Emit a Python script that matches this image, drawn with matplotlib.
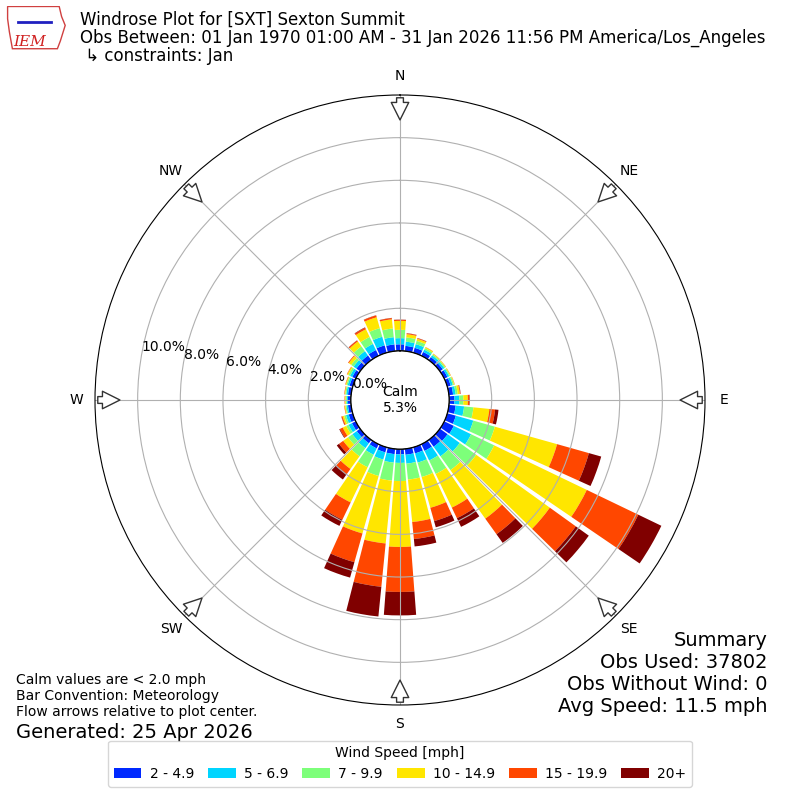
import numpy as np
import matplotlib
matplotlib.use("Agg")
import matplotlib.pyplot as plt
from matplotlib.patches import Patch, Polygon

# Wind direction bins (degrees, meteorological) and frequency (%) per speed bin
directions = list(range(0, 360, 10))
speed_labels = ["2 - 4.9", "5 - 6.9", "7 - 9.9", "10 - 14.9", "15 - 19.9", "20+"]

s_2_5 = [.31, .25, .24, .20, .18, .17, .17, .17, .20, .25, .32, .42, .50, .45, .40, .35, .30, .28,
         .25, .25, .25, .22, .20, .20, .20, .20, .15, .14, .15, .16, .18, .22, .27, .30, .36, .32]
s_5_7 = [.29, .20, .18, .12, .10, .09, .09, .10, .12, .23, .40, .85, .90, .70, .55, .50, .45, .42,
         .40, .40, .35, .33, .28, .25, .18, .13, .07, .06, .08, .09, .12, .16, .25, .32, .42, .34]
s_7_10 = [.39, .20, .16, .08, .06, .06, .05, .06, .10, .19, .44, 1.05, 1.20, .95, .80, .70, .70, .75,
          .85, .85, .80, .65, .47, .25, .12, .09, .05, .05, .05, .06, .09, .14, .28, .36, .42, .41]
s_10_15 = [.42, .15, .10, .05, .03, .03, .03, .03, .10, .21, .75, 3.03, 4.82, 4.25, 2.80, 1.75, 1.50, 2.00,
           3.09, 2.96, 2.80, 1.83, .73, .28, .18, .08, .04, .03, .03, .04, .06, .14, .28, .40, .53, .43]
s_15_20 = [.05, .04, .03, .01, .01, .01, .01, .01, .03, .07, .27, 1.55, 2.68, 1.50, .90, .55, .65, .80,
           2.11, 2.04, 1.40, .90, .30, .24, .15, .05, .02, .02, .02, .02, .02, .04, .06, .08, .09, .06]
s_20p = [.01, .01, .01, .00, .00, .00, .00, .00, .01, .02, .16, .60, 1.20, .75, .50, .45, .30, .35,
         1.10, 1.40, .75, .32, .31, .13, .03, .01, .00, .00, .00, .00, .00, .00, .01, .02, .01, .01]

calm_pct = 5.3
rings = [0, 2, 4, 6, 8, 10]
compass = ["N", "NE", "E", "SE", "S", "SW", "W", "NW"]
summary_lines = ["Summary", "Obs Used: 37802", "Obs Without Wind: 0", "Avg Speed: 11.5 mph"]

series = [s_2_5, s_5_7, s_7_10, s_10_15, s_15_20, s_20p]
cmap = plt.get_cmap("jet")
colors = [cmap(i / 6.0) for i in range(1, 7)]

fig = plt.figure(figsize=(8, 8), dpi=100)
ax = fig.add_axes([0.11875, 0.11875, 0.7625, 0.7625], projection="polar")
ax.set_theta_zero_location("N")
ax.set_theta_direction(-1)
ax.set_rorigin(-2.3)
ax.set_ylim(0, 12)

theta = np.radians(directions)
width = np.radians(8.6)
bottom = np.zeros(len(directions))
for vals, col in zip(series, colors):
    ax.bar(theta, vals, width=width, bottom=bottom, color=col, edgecolor="none", zorder=1)
    bottom = bottom + np.array(vals)

# grid
ax.set_rticks(rings)
ax.set_yticklabels(["%.1f%%" % r for r in rings], fontsize=10)
ax.set_rlabel_position(280)
ax.set_thetagrids(np.arange(0, 360, 45), compass, fontsize=10)
ax.grid(True, color="#b0b0b0", lw=0.8)
ax.tick_params(axis="x", pad=3)

# calm circle
tt = np.linspace(0, 2 * np.pi, 200)
ax.plot(tt, np.zeros_like(tt), color="k", lw=1, zorder=3)
ax.text(0, -2.3, "Calm\n%.1f%%" % calm_pct, ha="center", va="center", fontsize=10, zorder=4)

# flow arrows pointing to the center
for ang in np.arange(0, 360, 45):
    ax.annotate("", xy=(np.radians(ang), 10.7), xytext=(np.radians(ang), 12.0),
                arrowprops=dict(arrowstyle="simple,head_length=0.9,head_width=0.9,tail_width=0.35",
                                fc="white", ec="#333333", lw=1, mutation_scale=14),
                annotation_clip=False, zorder=5)

# header
fig.text(0.1, 0.986, "Windrose Plot for [SXT] Sexton Summit", fontsize=12, va="top")
fig.text(0.1, 0.964, "Obs Between: 01 Jan 1970 01:00 AM - 31 Jan 2026 11:56 PM America/Los_Angeles",
         fontsize=12, va="top")
fig.text(0.1, 0.941, " \u21b3 constraints: Jan", fontsize=12, va="top")

# logo stand-in
lax = fig.add_axes([0.008, 0.938, 0.075, 0.055])
lax.set_xlim(0, 1)
lax.set_ylim(0, 1)
lax.axis("off")
lax.add_patch(Polygon([[0.02, 0.98], [0.88, 0.98], [0.92, 0.75], [0.98, 0.55], [0.9, 0.2],
                       [0.85, 0.02], [0.1, 0.02], [0.05, 0.4], [0.02, 0.7]],
                      closed=True, fill=False, ec="#d04040", lw=1))
lax.plot([0.2, 0.75], [0.62, 0.62], color="#2020c0", lw=2)
lax.text(0.12, 0.08, "IEM", color="#d02020", fontsize=11, family="DejaVu Serif", style="italic")

# summary, one text per line
for i, line in enumerate(summary_lines):
    fig.text(0.959, 0.2 - i * 0.0275, line, ha="right", va="center", fontsize=14)

fig.text(0.02, 0.101, "Calm values are < 2.0 mph\nBar Convention: Meteorology\n"
         "Flow arrows relative to plot center.", fontsize=10, va="bottom", linespacing=1.2)
fig.text(0.02, 0.073, "Generated: 25 Apr 2026", fontsize=14, va="bottom")

handles = [Patch(facecolor=c) for c in colors]
fig.legend(handles, speed_labels, loc="lower center", bbox_to_anchor=(0.5, 0.008), ncol=6,
           title="Wind Speed [mph]", fontsize=10, title_fontsize=10, handlelength=2.0,
           columnspacing=1.0, handletextpad=0.6)

fig.savefig("out.png", dpi=100)
